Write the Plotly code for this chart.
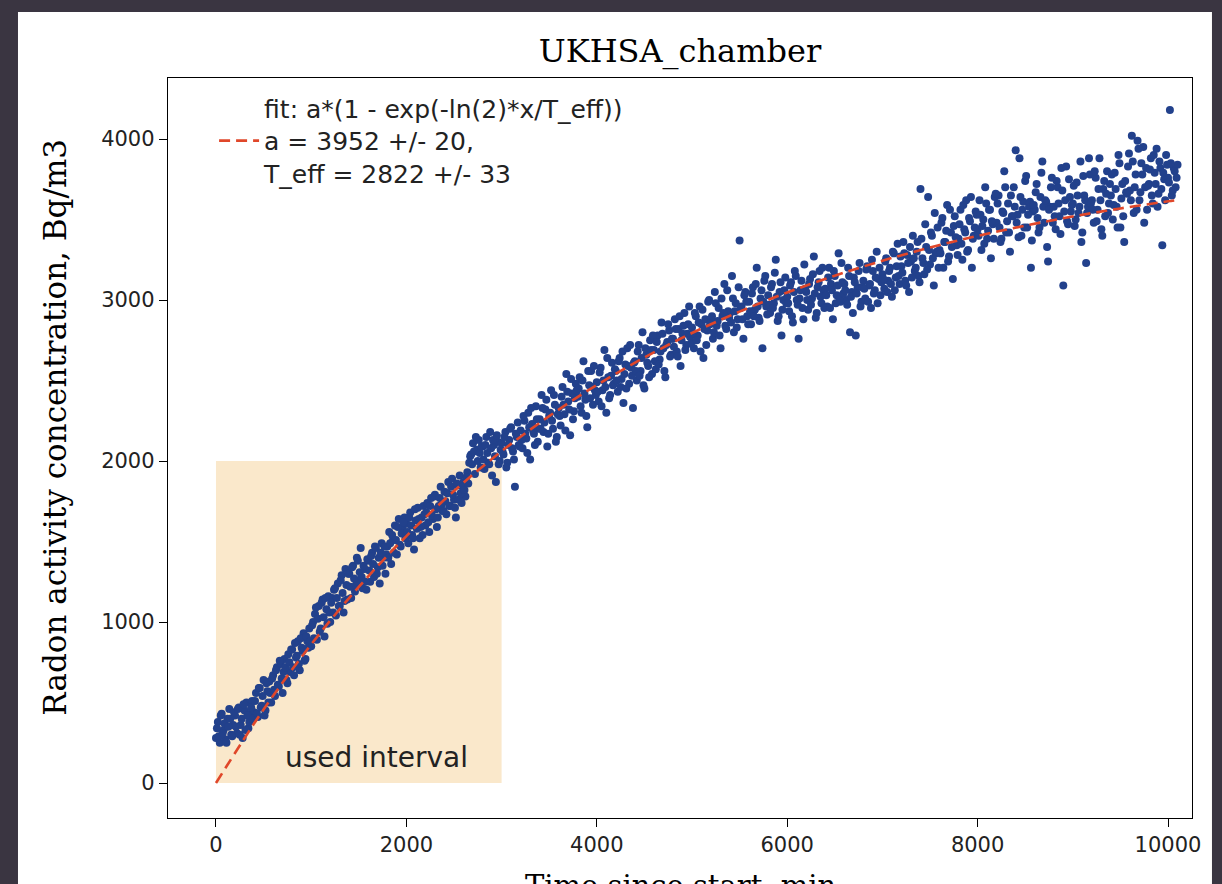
import plotly.graph_objects as go

# ---------------- data ----------------
title_text = "UKHSA_chamber"
x_label = "Time since start, min"
y_label = "Radon activity concentration, Bq/m3"

sample_step_min = 20  # spacing of each interleaved sample set (min)

# samples at t = 0, 20, 40, ...
radon_set_a = [
    280, 380, 250, 430, 330, 270, 400, 460, 300, 360,
    420, 310, 470, 360, 280, 450, 500, 340, 430, 510,
    440, 560, 410, 590, 480, 640, 450, 570, 630, 500,
    670, 540, 720, 600, 740, 560, 770, 640, 800, 690,
    830, 670, 780, 880, 700, 840, 930, 770, 880, 960,
    850, 1000, 1050, 890, 1100, 960, 1140, 910, 1080, 1160,
    1000, 1150, 1200, 1040, 1240, 1100, 1290, 1060, 1330, 1140,
    1300, 1150, 1350, 1190, 1400, 1260, 1460, 1210, 1330, 1200,
    1380, 1250, 1430, 1280, 1460, 1340, 1240, 1490, 1400, 1300,
    1470, 1560, 1360, 1510, 1600, 1420, 1640, 1470, 1580, 1650,
    1610, 1490, 1680, 1540, 1450, 1630, 1710, 1520, 1650, 1720,
    1600, 1740, 1560, 1770, 1640, 1790, 1590, 1720, 1840, 1690,
    1810, 1670, 1870, 1720, 1890, 1760, 1650, 1850, 1910, 1740,
    1870, 1780, 1930, 1990, 2040, 2110, 1920, 2070, 2130, 1960,
    2090, 1950, 2150, 1990, 2180, 1910, 2100, 1870, 2120, 2000,
    2110, 2040, 2180, 1990, 2130, 2210, 2060, 1840, 2150, 2100,
    2190, 2080, 2250, 2140, 2300, 2010, 2230, 2170, 2340, 2120,
    2260, 2410, 2180, 2320, 2090, 2280, 2440, 2200, 2350, 2150,
    2330, 2220, 2460, 2290, 2540, 2370, 2160, 2420, 2310, 2480,
    2400, 2520, 2300, 2620, 2380, 2210, 2470, 2560, 2350, 2440,
    2490, 2370, 2580, 2440, 2690, 2300, 2520, 2410, 2610, 2480,
    2560, 2430, 2640, 2510, 2360, 2600, 2700, 2480, 2580, 2330,
    2620, 2500, 2720, 2560, 2800, 2450, 2660, 2590, 2750, 2540,
    2690, 2570, 2780, 2630, 2860, 2700, 2520, 2740, 2810, 2660,
    2760, 2880, 2680, 2820, 2590, 2790, 2920, 2720, 2850, 2770,
    2830, 2700, 2900, 2780, 2960, 2850, 2640, 2880, 2810, 3000,
    2870, 2760, 3050, 2840, 2950, 2700, 2900, 3100, 2820, 2930,
    2920, 3150, 2800, 2980, 2880, 3370, 2960, 2760, 3050, 2900,
    2990, 2850, 3080, 2940, 3200, 2890, 3010, 2700, 3120, 2960,
    3030, 2920, 3100, 2980, 3250, 2870, 3050, 2780, 3000, 3140,
    3020, 2930, 3110, 2860, 3180, 3000, 2760, 3060, 2950, 3220,
    3050, 2940, 3130, 3010, 3270, 2890, 3080, 3180, 2980, 3060,
    3070, 2960, 3200, 3100, 2880, 3150, 3030, 3290, 2990, 3110,
    3100, 3000, 3200, 2800, 3050, 3140, 2780, 3080, 3230, 2990,
    3120, 3010, 3210, 3090, 2950, 3180, 3060, 3300, 3130, 3030,
    3160, 3070, 3260, 3120, 3200, 3020, 3290, 3140, 3350, 3100,
    3210, 3360, 3120, 3280, 3050, 3240, 3400, 3180, 3300, 3150,
    3690, 3260, 3160, 3330, 3640, 3220, 3400, 3090, 3290, 3450,
    3310, 3480, 3200, 3360, 3590, 3270, 3420, 3130, 3520, 3340,
    3380, 3560, 3250, 3440, 3620, 3310, 3490, 3200, 3400, 3550,
    3440, 3620, 3310, 3500, 3700, 3380, 3560, 3260, 3470, 3640,
    3480, 3650, 3360, 3550, 3800, 3420, 3600, 3300, 3520, 3700,
    3930, 3530, 3880, 3400, 3610, 3740, 3450, 3580, 3200, 3550,
    3560, 3720, 3420, 3640, 3860, 3480, 3610, 3240, 3580, 3760,
    3580, 3440, 3700, 3520, 3820, 3090, 3620, 3490, 3750, 3550,
    3600, 3460, 3730, 3540, 3860, 3420, 3650, 3230, 3580, 3780,
    3620, 3480, 3760, 3560, 3880, 3440, 3690, 3520, 3800, 3600,
    3650, 3500, 3790, 3580, 3900, 3450, 3720, 3360, 3670, 3830,
    3680, 4020, 3540, 3780, 3990, 3620, 3850, 3950, 3700, 3560,
    3720, 3880, 3600, 3790, 3940, 3660, 3820, 3340, 3750, 3900,
    3760, 4180, 3650, 3820, 3700, 3840,
]

# samples at t = 10, 30, 50, ...
radon_set_b = [
    340, 290, 420, 310, 370, 250, 350, 400, 290, 440,
    350, 460, 300, 400, 490, 330, 420, 380, 470, 400,
    510, 430, 590, 470, 540, 420, 620, 500, 560, 650,
    580, 700, 610, 760, 650, 690, 720, 620, 750, 830,
    720, 870, 790, 740, 900, 820, 760, 910, 840, 880,
    980, 900, 1090, 1020, 940, 1120, 1030, 1150, 990, 1060,
    1120, 1060, 1210, 1150, 1100, 1260, 1180, 1130, 1230, 1300,
    1220, 1340, 1270, 1230, 1380, 1310, 1280, 1350, 1250, 1390,
    1320, 1410, 1360, 1470, 1300, 1400, 1430, 1350, 1470, 1420,
    1400, 1490, 1540, 1430, 1510, 1590, 1480, 1550, 1620, 1520,
    1560, 1650, 1600, 1520, 1700, 1580, 1640, 1590, 1540, 1670,
    1680, 1620, 1720, 1660, 1780, 1700, 1650, 1770, 1730, 1690,
    1750, 1800, 1720, 1840, 1790, 1710, 1860, 1760, 1800, 1840,
    1820, 1900, 1860, 2030, 1980, 2060, 2150, 2000, 2050, 2090,
    2010, 2100, 2050, 1980, 2080, 2130, 2030, 2160, 1980, 2070,
    2060, 2150, 1960, 2100, 2200, 2080, 2010, 2170, 2240, 2090,
    2130, 2280, 2170, 2050, 2210, 2330, 2190, 2100, 2260, 2200,
    2200, 2330, 2240, 2380, 2170, 2300, 2250, 2410, 2120, 2290,
    2280, 2400, 2350, 2190, 2430, 2320, 2510, 2260, 2390, 2440,
    2450, 2340, 2500, 2420, 2280, 2560, 2390, 2460, 2590, 2410,
    2430, 2550, 2340, 2500, 2460, 2640, 2390, 2530, 2470, 2570,
    2500, 2620, 2460, 2680, 2540, 2450, 2590, 2720, 2530, 2610,
    2560, 2680, 2530, 2640, 2470, 2700, 2610, 2520, 2690, 2780,
    2620, 2740, 2600, 2680, 2790, 2560, 2720, 2850, 2650, 2760,
    2710, 2820, 2650, 2900, 2750, 2840, 2690, 2790, 2960, 2730,
    2790, 2920, 2750, 2860, 2680, 2940, 2820, 2720, 2990, 2850,
    2900, 2800, 2980, 2870, 2780, 3010, 2920, 2840, 3060, 2890,
    2860, 3010, 2930, 2830, 3080, 2950, 2880, 3030, 2990, 2850,
    2930, 3040, 2900, 3100, 2960, 2870, 3060, 2990, 3150, 2910,
    2970, 3080, 2950, 3170, 3020, 2900, 3110, 2940, 3060, 2980,
    2980, 3090, 2900, 3050, 3150, 2970, 3010, 3120, 2880, 3070,
    3000, 3100, 2970, 3160, 3040, 2920, 3110, 3020, 3200, 2950,
    3030, 3140, 2950, 3060, 3180, 2980, 3090, 3010, 3230, 3040,
    3060, 2970, 3150, 3020, 2920, 3110, 3040, 3180, 2960, 3080,
    3070, 3190, 2990, 3100, 3250, 3040, 3140, 2980, 3200, 3110,
    3130, 3240, 3050, 3180, 3100, 3300, 3060, 3210, 3150, 3270,
    3170, 3290, 3090, 3230, 3330, 3140, 3260, 3200, 3360, 3110,
    3380, 3230, 3470, 3190, 3310, 3420, 3260, 3540, 3300, 3200,
    3290, 3510, 3360, 3430, 3240, 3560, 3330, 3460, 3390, 3280,
    3470, 3350, 3590, 3420, 3300, 3510, 3640, 3380, 3450, 3530,
    3400, 3530, 3460, 3350, 3600, 3430, 3560, 3490, 3380, 3660,
    3600, 3450, 3380, 3540, 3700, 3490, 3420, 3650, 3520, 3580,
    3480, 3390, 3640, 3560, 3450, 3770, 3530, 3610, 3370, 3590,
    3670, 3510, 3450, 3790, 3580, 3620, 3330, 3560, 3700, 3480,
    3520, 3740, 3600, 3410, 3680, 3550, 3830, 3470, 3640, 3590,
    3710, 3500, 3650, 3580, 3360, 3770, 3620, 3540, 3880, 3600,
    3560, 3800, 3490, 3690, 3620, 3400, 3740, 3660, 3540, 3720,
    3780, 3590, 3690, 3450, 3850, 3630, 3520, 3740, 3660, 3910,
    3620, 3860, 3700, 3560, 3940, 3670, 3780, 3480, 3820, 3710,
    3810, 3650, 3900, 3720, 3580, 3860, 3690, 3790, 3620, 3840,
    3730, 3850, 3680, 3800, 3760,
]
time_set_a = [i * sample_step_min for i in range(len(radon_set_a))]
time_set_b = [10 + i * sample_step_min for i in range(len(radon_set_b))]

# fitted curve a*(1-exp(-ln2*x/T_eff)), a=3952, T_eff=2822
fit_x = [0, 500, 1000, 1500, 2000, 2500, 3000, 3500, 4000, 4500, 5000,
         5500, 6000, 6500, 7000, 7500, 8000, 8500, 9000, 9500, 10000, 10100]
fit_y = [0, 457, 861, 1218, 1534, 1814, 2061, 2279, 2472, 2643, 2795,
         2928, 3047, 3151, 3244, 3326, 3398, 3462, 3519, 3569, 3613, 3621]
fit_label = "fit: a*(1 - exp(-ln(2)*x/T_eff))<br>a = 3952 +/- 20,<br>T_eff = 2822 +/- 33"

interval_x = [0, 3000]
interval_y = [0, 2000]
interval_label = "used interval"
interval_label_pos = (1690, 160)

x_ticks = [0, 2000, 4000, 6000, 8000, 10000]
x_tick_text = ["0", "2000", "4000", "6000", "8000", "10000"]
y_ticks = [0, 1000, 2000, 3000, 4000]
y_tick_text = ["0", "1000", "2000", "3000", "4000"]

# ---------------- figure ----------------
fig = go.Figure()

fig.add_trace(go.Scatter(
    x=[interval_x[0], interval_x[1], interval_x[1], interval_x[0], interval_x[0]],
    y=[interval_y[0], interval_y[0], interval_y[1], interval_y[1], interval_y[0]],
    mode="lines", fill="toself", fillcolor="#FAE8CB",
    line=dict(width=0, color="#FAE8CB"), showlegend=False, hoverinfo="skip"))

fig.add_trace(go.Scatter(
    x=time_set_a + time_set_b, y=radon_set_a + radon_set_b, mode="markers",
    marker=dict(size=8, color="#22418C"), showlegend=False))

fig.add_trace(go.Scatter(
    x=fit_x, y=fit_y, mode="lines", line_shape="spline",
    line=dict(color="#E0472A", width=2.6, dash="11px,6px"),
    name=fit_label, showlegend=True))

fig.add_annotation(x=interval_label_pos[0], y=interval_label_pos[1], text=interval_label,
                   showarrow=False, font=dict(family="DejaVu Sans", size=28, color="#222222"))

# axis labels, placed where the reference shows them (x label is cut by the page edge)
fig.add_annotation(xref="paper", yref="paper", x=-0.110, y=0.528, text=y_label,
                   textangle=-90, showarrow=False, xanchor="center", yanchor="middle",
                   font=dict(family="DejaVu Serif", size=31, color="black"))
fig.add_annotation(xref="paper", yref="paper", x=0.5, y=-0.066, text=x_label,
                   showarrow=False, xanchor="center", yanchor="top",
                   font=dict(family="DejaVu Serif", size=29, color="black"))

# page frame: dark surround with white figure area
fig.add_shape(type="rect", xref="paper", yref="paper",
              x0=-0.1465, x1=1.0195, y0=-0.2, y1=1.0892,
              fillcolor="white", line=dict(width=0), layer="below")

axis_common = dict(showgrid=False, zeroline=False, showline=True, linecolor="black",
                   linewidth=1.4, mirror=True, ticks="outside", ticklen=8, tickwidth=1.3,
                   tickcolor="black",
                   tickfont=dict(family="DejaVu Sans", size=21, color="#222222"))

fig.update_layout(
    width=1222, height=884,
    margin=dict(l=168, r=30, t=78, b=66, autoexpand=False),
    paper_bgcolor="#3A3541", plot_bgcolor="white",
    title=dict(text=title_text, x=0.5, xanchor="center", xref="paper",
               y=1 - 51 / 884, yanchor="middle",
               font=dict(family="DejaVu Serif", size=32, color="black")),
    xaxis=dict(range=[-504, 10252], tickvals=x_ticks, ticktext=x_tick_text,
               automargin=False, **axis_common),
    yaxis=dict(range=[-217, 4379], tickvals=y_ticks, ticktext=y_tick_text,
               automargin=False, **axis_common),
    legend=dict(x=0.045, y=0.99, xanchor="left", yanchor="top",
                bgcolor="rgba(255,255,255,0)", borderwidth=0,
                font=dict(family="DejaVu Sans", size=25, color="#222222"),
                itemwidth=40, tracegroupgap=0),
    showlegend=True,
)

fig.write_html("out.html",
               config={"displayModeBar": False},
               post_script="document.body.style.margin='0';"
                           "document.body.style.background='#3A3541';")
